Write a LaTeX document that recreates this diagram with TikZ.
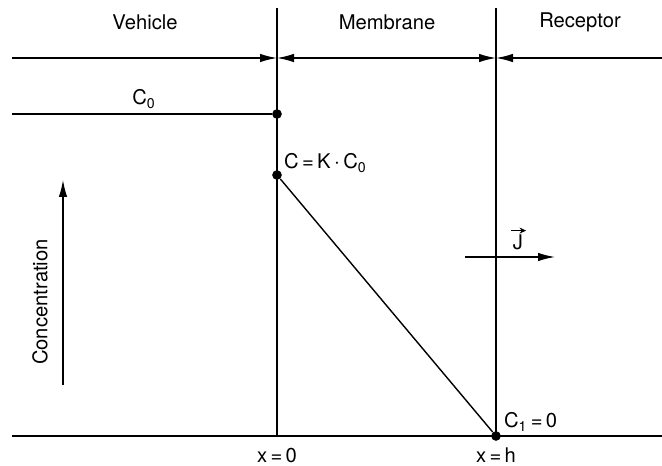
\documentclass[tikz,border=0pt]{standalone}
\usepackage{fontspec}
\setmainfont{TeX Gyre Heros}
\usetikzlibrary{arrows.meta, positioning, calc}
\tikzset{
  wall/.style={line width=0.8pt},
  dotnode/.style={circle, fill=black, inner sep=0pt, minimum size=5.5pt},
  zonelbl/.style={font=\fontsize{11.5}{13}\selectfont, inner sep=1pt},
  vallbl/.style={font=\fontsize{11.5}{13}\selectfont, inner sep=1pt},
  tiparr/.style={-{Latex[length=3.4mm, width=1.7mm]}, line width=0.8pt},
}
\newcommand{\sub}[1]{\textsubscript{#1}}
\begin{document}
\begin{tikzpicture}[x=0.02cm, y=-0.02cm]
    \useasboundingbox (0,0) rectangle (662,466);
    % walls of the membrane
    \coordinate (lt) at (277,8);  \coordinate (lb) at (277,436);
    \coordinate (rt) at (496,8);  \coordinate (rb) at (496,436);
    \draw[wall] (lt) -- (lb); \draw[wall] (rt) -- (rb);
    % zone arrows
    \coordinate (hl) at (12,58); \coordinate (hm) at (277,58);
    \coordinate (hn) at (496,58); \coordinate (hr) at (662,58);
    \draw[tiparr] (hl) -- (hm);
    \draw[tiparr, {Latex[length=3.4mm, width=1.7mm]}-{Latex[length=3.4mm, width=1.7mm]}] (hm) -- (hn);
    \draw[tiparr] (hr) -- (hn);
    \node[zonelbl] (veh) at (145,22) {Vehicle};
    \node[zonelbl] (mem) at (387,22) {Membrane};
    \node[zonelbl] (rec) at (580,22) {Receptor};
    % concentration levels
    \coordinate (c0l) at (12,114);
    \node[dotnode] (c0) at (277,114) {};
    \node[dotnode] (ck) at (277,175) {};
    \node[dotnode] (c1) at (496,436) {};
    \draw[wall] (c0l) -- (c0);
    \draw[wall] (ck) -- (c1);
    \node[vallbl] (c0lbl) at (144,99) {C\sub{0}};
    \node[vallbl, anchor=west] (cklbl) at (282,163) {C\,=\,K\,$\cdot$\,C\sub{0}};
    \node[vallbl, anchor=west] (c1lbl) at (502,422) {C\sub{1}\,=\,0};
    % base line
    \coordinate (bl) at (12,436); \coordinate (br) at (662,436);
    \draw[wall] (bl) -- (br);
    \node[vallbl] (x0) at (277,455) {x\,=\,0};
    \node[vallbl] (xh) at (496,455) {x\,=\,h};
    % concentration axis
    \coordinate (ca) at (63,385); \coordinate (cb) at (63,180);
    \draw[tiparr] (ca) -- (cb);
    \node[vallbl, rotate=90] (conc) at (40,302) {Concentration};
    % flux
    \coordinate (ja) at (465,257); \coordinate (jb) at (555,257);
    \draw[tiparr] (ja) -- (jb);
    \node[vallbl, inner sep=0pt] (jlbl) at (518,242) {J};
    \draw[line width=0.5pt, -{Stealth[length=1.3mm, width=1.2mm]}]
      ($(jlbl.north west)+(-1pt,2pt)$) -- ($(jlbl.north east)+(1.5pt,2pt)$);
\end{tikzpicture}
\end{document}
